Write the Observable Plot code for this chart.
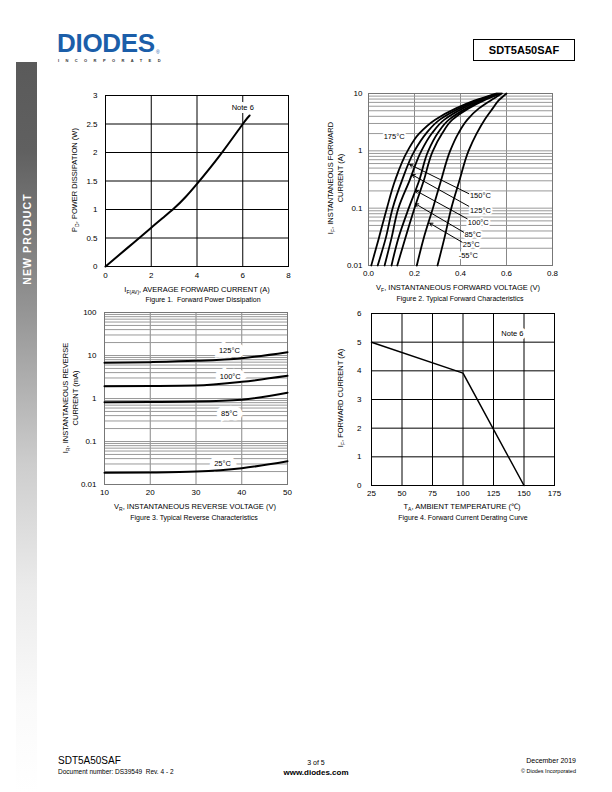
<!DOCTYPE html>
<html><head><meta charset="utf-8">
<script src="https://cdn.jsdelivr.net/npm/d3@7"></script>
<script src="https://cdn.jsdelivr.net/npm/@observablehq/plot@0.6"></script>
<style>
body{margin:0;background:#fff;}
#page{position:relative;width:612px;height:792px;overflow:hidden;font-family:"Liberation Sans",Arial,sans-serif;color:#000;background:#fff;}
.abs{position:absolute;white-space:nowrap;}
.c{transform:translate(-50%,-50%);}
.ttl{font-size:7.5px;}
.cap{font-size:7px;}
.rot{transform:translate(-50%,-50%) rotate(-90deg);text-align:center;line-height:10px;font-size:7.5px;}
.sb{font-size:5px;position:relative;top:2px;}
.plot{position:absolute;}
</style></head>
<body><div id="page">
<div class="abs" style="left:16px;top:62px;width:21px;height:730px;background:linear-gradient(to bottom,#5a5a5a 0%,#606060 12%,#979797 35%,#cdcdcd 55%,#ebebeb 72%,#fafafa 88%,#ffffff 100%);"></div>
<div class="abs rot" style="left:27px;top:239px;color:#fff;font-weight:bold;font-size:10.5px;letter-spacing:1.1px;line-height:12px;">NEW PRODUCT</div>

<div class="abs" style="left:57px;top:31px;font-size:26px;font-weight:bold;color:#1b5ea9;letter-spacing:-0.3px;line-height:24px;">DIODES</div>
<div class="abs" style="left:156px;top:50px;font-size:5px;line-height:5px;color:#1b5ea9;">&#174;</div>
<div class="abs" style="left:58px;top:58.6px;font-size:4px;line-height:4px;letter-spacing:6.4px;color:#333;font-weight:bold;">INCORPORATED</div>
<div class="abs" style="left:473px;top:39px;width:100px;height:20px;border:1px solid #000;font-weight:bold;font-size:11px;line-height:20px;text-align:center;">SDT5A50SAF</div>

<div id="fig1" class="plot" style="left:40px;top:85px;"></div>
<div id="fig2" class="plot" style="left:300px;top:83px;"></div>
<div id="fig3" class="plot" style="left:40px;top:302px;"></div>
<div id="fig4" class="plot" style="left:300px;top:303px;"></div>

<div class="abs c ttl" style="left:197px;top:289px;">I<span class="sb">F(AV)</span>, AVERAGE FORWARD CURRENT (A)</div>
<div class="abs c cap" style="left:203px;top:299px;">Figure 1.&nbsp; Forward Power Dissipation</div>
<div class="abs rot" style="left:75px;top:180px;">P<span class="sb">D</span>, POWER DISSIPATION (W)</div>

<div class="abs c ttl" style="left:458px;top:287px;">V<span class="sb">F</span>, INSTANTANEOUS FORWARD VOLTAGE (V)</div>
<div class="abs c cap" style="left:460px;top:298px;">Figure 2. Typical Forward Characteristics</div>
<div class="abs rot" style="left:336px;top:178px;">I<span class="sb">F</span>, INSTANTANEOUS FORWARD<br>CURRENT (A)</div>

<div class="abs c ttl" style="left:195px;top:506px;">V<span class="sb">R</span>, INSTANTANEOUS REVERSE VOLTAGE (V)</div>
<div class="abs c cap" style="left:194px;top:517px;">Figure 3. Typical Reverse Characteristics</div>
<div class="abs rot" style="left:71px;top:398px;">I<span class="sb">R</span>, INSTANTANEOUS REVERSE<br>CURRENT (mA)</div>

<div class="abs c ttl" style="left:462px;top:506px;">T<span class="sb">A</span>, AMBIENT TEMPERATURE (&#8451;)</div>
<div class="abs c cap" style="left:463px;top:517px;">Figure 4. Forward Current Derating Curve</div>
<div class="abs rot" style="left:341px;top:398px;">I<span class="sb">F</span>, FORWARD CURRENT (A)</div>

<div class="abs" style="left:58px;top:755px;font-size:10px;">SDT5A50SAF</div>
<div class="abs" style="left:58px;top:768px;font-size:6.5px;">Document number: DS39549&nbsp; Rev. 4 - 2</div>
<div class="abs c" style="left:316px;top:762px;font-size:7px;">3 of 5</div>
<div class="abs c" style="left:316px;top:772px;font-size:8px;font-weight:bold;">www.diodes.com</div>
<div class="abs" style="right:36px;top:757px;font-size:7px;text-align:right;">December 2019</div>
<div class="abs" style="right:36px;top:768px;font-size:5.5px;text-align:right;">&#169; Diodes Incorporated</div>
</div>
<script>
// ---------- Figure 1 data ----------
const fig1Current = [0, 1, 2, 2.5, 3, 3.5, 4, 5, 6, 6.3];
const fig1Power   = [0, 0.34, 0.68, 0.85, 1.02, 1.22, 1.45, 1.95, 2.5, 2.65];
const fig1XTicks = [0, 2, 4, 6, 8];
const fig1YTicks = [0, 0.5, 1, 1.5, 2, 2.5, 3];
const fig1Note = [{x: 6.0, y: 2.79, t: "Note 6"}];

// ---------- Figure 2 data (VF in V, IF in A) ----------
const fig2Temps = ["175°C", "150°C", "125°C", "100°C", "85°C", "25°C", "-55°C"];
const fig2IF = [0.01, 0.03, 0.1, 0.3, 1, 2, 3.5, 5.5, 7.5, 10];
const vf175 = [0.012, 0.045, 0.080, 0.115, 0.170, 0.220, 0.290, 0.380, 0.460, 0.555];
const vf150 = [0.040, 0.075, 0.105, 0.145, 0.200, 0.250, 0.310, 0.395, 0.470, 0.560];
const vf125 = [0.070, 0.100, 0.130, 0.178, 0.230, 0.275, 0.330, 0.410, 0.480, 0.565];
const vf100 = [0.100, 0.130, 0.175, 0.220, 0.260, 0.300, 0.350, 0.425, 0.490, 0.570];
const vf85  = [0.125, 0.160, 0.200, 0.240, 0.280, 0.320, 0.365, 0.435, 0.500, 0.575];
const vf25  = [0.210, 0.240, 0.280, 0.315, 0.355, 0.390, 0.430, 0.480, 0.530, 0.580];
const vfm55 = [0.300, 0.330, 0.360, 0.395, 0.435, 0.470, 0.505, 0.540, 0.565, 0.600];
const fig2VF = [vf175, vf150, vf125, vf100, vf85, vf25, vfm55];
const fig2XTicks = [0, 0.2, 0.4, 0.6, 0.8];
const fig2YTicks = [0.01, 0.1, 1, 10];
const fig2ArrowTemps = ["150°C", "125°C", "100°C", "85°C", "25°C"];
const fig2ArrowFromV = [0.436, 0.436, 0.429, 0.414, 0.407];
const fig2ArrowFromI = [0.179, 0.108, 0.0653, 0.038, 0.0255];
const fig2ArrowToV = [0.179, 0.189, 0.204, 0.204, 0.266];
const fig2ArrowToI = [0.58, 0.384, 0.204, 0.119, 0.0547];
const fig2LabelText = ["175°C", "150°C", "125°C", "100°C", "85°C", "25°C", "-55°C"];
const fig2LabelV = [0.066, 0.441, 0.441, 0.432, 0.417, 0.410, 0.392];
const fig2LabelI = [1.74, 0.165, 0.091, 0.0569, 0.0347, 0.0234, 0.0149];

// ---------- Figure 3 data (VR in V, IR in mA) ----------
const fig3VR = [10, 20, 30, 40, 50];
const ir125 = [6.76, 7.0, 7.5, 8.66, 11.9];
const ir100 = [1.93, 1.95, 2.0, 2.44, 3.37];
const ir85  = [0.82, 0.83, 0.85, 0.94, 1.36];
const ir25  = [0.0187, 0.0190, 0.0200, 0.0239, 0.0348];
const fig3Temps = ["125°C", "100°C", "85°C", "25°C"];
const fig3IR = [ir125, ir100, ir85, ir25];
const fig3LabelV = [37.3, 37.5, 37.3, 35.8];
const fig3LabelI = [13.1, 3.25, 0.448, 0.0308];
const fig3XTicks = [10, 20, 30, 40, 50];
const fig3YTicks = [0.01, 0.1, 1, 10, 100];

// ---------- Figure 4 data ----------
const fig4Temp = [25, 100, 150];
const fig4Current = [5, 3.92, 0];
const fig4XTicks = [25, 50, 75, 100, 125, 150, 175];
const fig4YTicks = [0, 1, 2, 3, 4, 5, 6];
const fig4Note = [{x: 140.5, y: 5.3, t: "Note 6"}];

const FONT = "'Liberation Sans', Arial, sans-serif";
const baseStyle = {fontFamily: FONT, fontSize: "8px", background: "transparent", overflow: "visible"};
const fmtPlain = d => String(d);
const minorLog = (lo, hi) => { const out = []; for (let p = lo; p < hi; p *= 10) for (let k = 1; k <= 9; k++) out.push(+(p * k).toPrecision(3)); out.push(hi); return out; };

// Figure 1
const f1 = fig1Current.map((x, i) => ({x, y: fig1Power[i]}));
document.getElementById("fig1").append(Plot.plot({
  width: 260, height: 215, marginLeft: 65, marginRight: 12, marginTop: 10, marginBottom: 34,
  style: baseStyle,
  x: {domain: [0, 8]}, y: {domain: [0, 3]},
  marks: [
    Plot.gridX(fig1XTicks.slice(1, -1), {stroke: "#000", strokeOpacity: 1, strokeWidth: 1}),
    Plot.gridY(fig1YTicks.slice(1, -1), {stroke: "#000", strokeOpacity: 1, strokeWidth: 1}),
    Plot.text(fig1Note, {x: "x", y: "y", text: "t", fill: "#000", stroke: "#fff", strokeWidth: 6, fontSize: 7.5}),
    Plot.frame({stroke: "#000", strokeWidth: 1}),
    Plot.line(f1, {x: "x", y: "y", curve: "natural", stroke: "#000", strokeWidth: 2}),
    Plot.axisX({ticks: fig1XTicks, tickSize: 0, tickPadding: 6, label: null, tickFormat: fmtPlain}),
    Plot.axisY({ticks: fig1YTicks, tickSize: 0, tickPadding: 8, label: null, tickFormat: fmtPlain})
  ]
}));

// Figure 2
const f2 = [];
fig2Temps.forEach((t, k) => fig2IF.forEach((i, j) => f2.push({t, v: fig2VF[k][j], i})));
const f2arrows = fig2ArrowTemps.map((t, k) => ({t, x1: fig2ArrowFromV[k], y1: fig2ArrowFromI[k], x2: fig2ArrowToV[k], y2: fig2ArrowToI[k]}));
const f2labels = fig2LabelText.map((t, k) => ({t, x: fig2LabelV[k], y: fig2LabelI[k]}));
document.getElementById("fig2").append(Plot.plot({
  width: 262, height: 200, marginLeft: 68, marginRight: 10, marginTop: 10, marginBottom: 18,
  style: baseStyle,
  x: {domain: [0, 0.8]}, y: {type: "log", domain: [0.01, 10]},
  marks: [
    Plot.gridX(fig2XTicks.slice(1, -1), {stroke: "#888", strokeOpacity: 1}),
    Plot.gridY(minorLog(0.01, 10).slice(1, -1), {stroke: "#999", strokeOpacity: 1}),
    Plot.text(f2labels, {x: "x", y: "y", text: "t", textAnchor: "start", fill: "#000", stroke: "#fff", strokeWidth: 4, fontSize: 7.5}),
    Plot.frame({stroke: "#777"}),
    Plot.line(f2, {x: "v", y: "i", z: "t", curve: "monotone-y", stroke: "#000", strokeWidth: 1.8}),
    Plot.arrow(f2arrows, {x1: "x1", y1: "y1", x2: "x2", y2: "y2", stroke: "#000", strokeWidth: 1, headLength: 5}),
    Plot.axisX({ticks: fig2XTicks, tickSize: 0, tickPadding: 5, label: null, tickFormat: d3.format(".1f")}),
    Plot.axisY({ticks: fig2YTicks, tickSize: 0, tickPadding: 6, label: null, tickFormat: fmtPlain})
  ]
}));

// Figure 3
const f3 = [];
fig3Temps.forEach((t, k) => fig3VR.forEach((v, j) => f3.push({t, v, i: fig3IR[k][j]})));
const f3labels = fig3Temps.map((t, k) => ({t, x: fig3LabelV[k], y: fig3LabelI[k]}));
document.getElementById("fig3").append(Plot.plot({
  width: 260, height: 200, marginLeft: 64, marginRight: 13, marginTop: 10, marginBottom: 18,
  style: baseStyle,
  x: {domain: [10, 50]}, y: {type: "log", domain: [0.01, 100]},
  marks: [
    Plot.gridX(fig3XTicks.slice(1, -1), {stroke: "#888", strokeOpacity: 1}),
    Plot.gridY(minorLog(0.01, 100).slice(1, -1), {stroke: "#999", strokeOpacity: 1}),
    Plot.text(f3labels, {x: "x", y: "y", text: "t", fill: "#000", stroke: "#fff", strokeWidth: 9, strokeLinejoin: "miter", fontSize: 7.5}),
    Plot.frame({stroke: "#777"}),
    Plot.line(f3, {x: "v", y: "i", z: "t", curve: "monotone-x", stroke: "#000", strokeWidth: 2}),
    Plot.axisX({ticks: fig3XTicks, tickSize: 0, tickPadding: 5, label: null, tickFormat: fmtPlain}),
    Plot.axisY({ticks: fig3YTicks, tickSize: 0, tickPadding: 8, label: null, tickFormat: fmtPlain})
  ]
}));

// Figure 4
const f4 = fig4Temp.map((x, i) => ({x, y: fig4Current[i]}));
document.getElementById("fig4").append(Plot.plot({
  width: 262, height: 200, marginLeft: 71, marginRight: 8, marginTop: 10, marginBottom: 18,
  style: baseStyle,
  x: {domain: [25, 175]}, y: {domain: [0, 6]},
  marks: [
    Plot.gridX(fig4XTicks.slice(1, -1), {stroke: "#000", strokeOpacity: 1}),
    Plot.gridY(fig4YTicks.slice(1, -1), {stroke: "#000", strokeOpacity: 1}),
    Plot.text(fig4Note, {x: "x", y: "y", text: "t", fill: "#000", stroke: "#fff", strokeWidth: 6, fontSize: 7.5}),
    Plot.frame({stroke: "#000"}),
    Plot.line(f4, {x: "x", y: "y", stroke: "#000", strokeWidth: 1.5}),
    Plot.axisX({ticks: fig4XTicks, tickSize: 0, tickPadding: 5, label: null, tickFormat: fmtPlain}),
    Plot.axisY({ticks: fig4YTicks, tickSize: 0, tickPadding: 10, label: null, tickFormat: fmtPlain})
  ]
}));
</script>
</body></html>
